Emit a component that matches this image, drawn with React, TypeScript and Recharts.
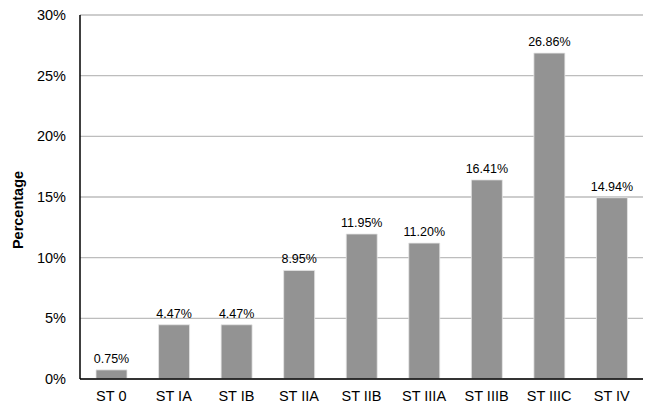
import React from 'react';
import { BarChart, Bar, XAxis, YAxis, CartesianGrid, LabelList } from 'recharts';

const stages = ['ST 0', 'ST IA', 'ST IB', 'ST IIA', 'ST IIB', 'ST IIIA', 'ST IIIB', 'ST IIIC', 'ST IV'];
const percentages = [0.75, 4.47, 4.47, 8.95, 11.95, 11.2, 16.41, 26.86, 14.94];
const yTicks = [0, 5, 10, 15, 20, 25, 30];

const data = stages.map((stage, i) => ({ stage, value: percentages[i] }));

const FONT = '"Liberation Sans", Arial, sans-serif';

// rotated axis title, sits a bit below the plot's middle like the original
const YTitle = ({ viewBox }: any) => {
  const cx = 18;
  const cy = viewBox.y + viewBox.height / 2 + 13;
  return (
    <text
      x={cx}
      y={cy}
      transform={`rotate(-90, ${cx}, ${cy})`}
      textAnchor="middle"
      dominantBaseline="central"
      style={{ fontWeight: 'bold', fontSize: 14.5, fill: '#000', fontFamily: FONT }}
    >
      Percentage
    </text>
  );
};

export default function App() {
  return (
    <div style={{ position: 'absolute', left: 0, top: 0, background: '#fff' }}>
      <BarChart
        width={647}
        height={407}
        data={data}
        margin={{ top: 15, right: 4, bottom: 0, left: 30 }}
        style={{ fontFamily: FONT }}
      >
        <CartesianGrid vertical={false} stroke="#bdbdbd" strokeWidth={1.3} />
        <XAxis
          dataKey="stage"
          height={28}
          axisLine={{ stroke: '#000', strokeWidth: 1.5 }}
          tickLine={false}
          tickSize={0}
          tickMargin={12}
          interval={0}
          tick={{ fill: '#000', fontSize: 14.5 }}
        />
        <YAxis
          width={50}
          domain={[0, 30]}
          ticks={yTicks}
          tickFormatter={(v: number) => `${v}%`}
          axisLine={{ stroke: '#000', strokeWidth: 1.5 }}
          tickLine={false}
          tickSize={0}
          tickMargin={14}
          tick={{ fill: '#000', fontSize: 14.5 }}
          label={{ content: YTitle }}
        />
        <Bar dataKey="value" fill="#939393" stroke="#e6e6e6" strokeWidth={0.8} barSize={31} isAnimationActive={false}>
          <LabelList
            dataKey="value"
            position="top"
            offset={7}
            formatter={(v: number) => `${v.toFixed(2)}%`}
            style={{ fill: '#000', fontSize: 12.5 }}
          />
        </Bar>
      </BarChart>
    </div>
  );
}
